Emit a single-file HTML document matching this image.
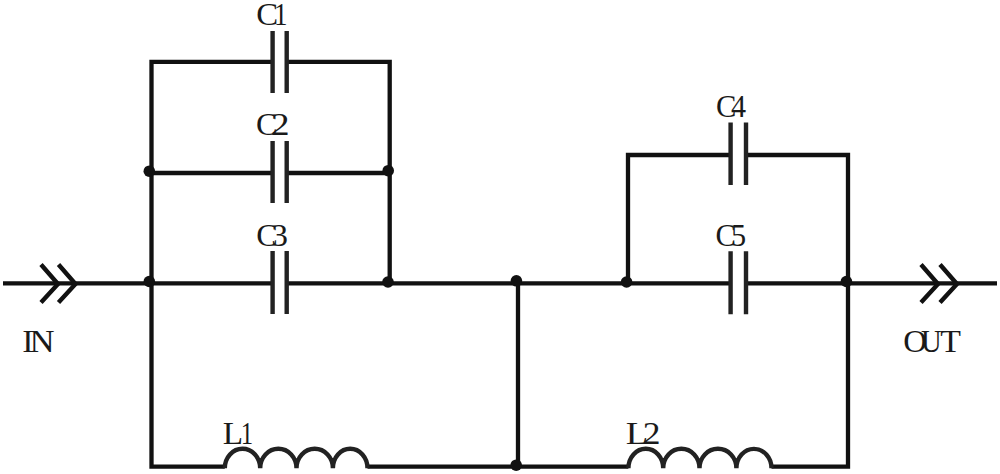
<!DOCTYPE html>
<html><head><meta charset="utf-8">
<style>
html,body{margin:0;padding:0;background:#fff;width:1000px;height:474px;overflow:hidden}
svg{display:block}
text{font-family:"Liberation Serif",serif;fill:#1a1a1a}
</style></head>
<body>
<svg width="1000" height="474" viewBox="0 0 1000 474">
<g stroke="#111" stroke-width="4.3" fill="none" stroke-linecap="butt" stroke-linejoin="miter">
<path d="M3 283.4H272.6M286.7 283.4H730.6M746.0 283.4H997"/>
<path d="M272.6 61.8H151.5V466.6H224.8"/>
<path d="M286.7 61.8H389.7V283.4"/>
<path d="M151.5 173H272.6M286.7 173H389.7"/>
<path d="M730.6 155H628V283.4"/>
<path d="M746.0 155H848V466.6H771.5"/>
<path d="M518 283.4V466.6"/>
<path d="M367.5 466.6H628.4"/>
</g>
<g stroke="#222" stroke-width="4.4" fill="none">
<path d="M272.6 31V93M286.7 31V93"/>
<path d="M272.6 141V203M286.7 141V203"/>
<path d="M272.6 251V314M286.7 251V314"/>
<path d="M730.6 122.6V185M746.0 122.6V185"/>
<path d="M730.6 251.3V314.3M746.0 251.3V314.3"/>
<path d="M224.8 468.3A17.70 19.5 0 0 1 260.2 468.3A18.15 19.5 0 0 1 296.5 468.3A18.20 19.5 0 0 1 332.9 468.3A17.30 19.5 0 0 1 367.5 468.3"/>
<path d="M628.4 468.3A17.40 19.5 0 0 1 663.2 468.3A18.15 19.5 0 0 1 699.5 468.3A18.45 19.5 0 0 1 736.4 468.3A17.55 19.5 0 0 1 771.5 468.3"/>
</g>
<g stroke="#111" stroke-width="4.4" fill="none" stroke-linecap="butt">
<path d="M41 264.5L58 284L41 302.5M58.5 264.5L75.5 284L58.5 302.5"/>
<path d="M921 264.5L938 284L921 302.5M940 264.5L957 284L940 302.5"/>
</g>
<g fill="#111">
<circle cx="149.3" cy="171.2" r="5.8"/>
<circle cx="388.2" cy="170.7" r="5.8"/>
<circle cx="149.3" cy="281.5" r="5.8"/>
<circle cx="388" cy="282" r="5.8"/>
<circle cx="516.4" cy="280.8" r="5.8"/>
<circle cx="626.6" cy="282" r="5.8"/>
<circle cx="846.4" cy="281.5" r="5.8"/>
<circle cx="516.2" cy="465.2" r="5.8"/>
</g>
<g font-size="32.5">
<text transform="translate(256.29,24.8) scale(1.011,1)">C</text>
<text transform="translate(274.08,24.8) scale(0.833,1)">1</text>
<text transform="translate(255.91,134.9) scale(0.995,1)">C</text>
<text transform="translate(270.78,134.9) scale(1.160,1)">2</text>
<text transform="translate(256.31,246.1) scale(0.995,1)">C</text>
<text transform="translate(271.15,246.1) scale(1.030,1)">3</text>
<text transform="translate(715.88,116.5) scale(0.941,1)">C</text>
<text transform="translate(730.94,116.5) scale(0.927,1)">4</text>
<text transform="translate(715.58,246.1) scale(0.941,1)">C</text>
<text transform="translate(731.03,246.1) scale(0.931,1)">5</text>
<text transform="translate(222.78,443.6) scale(1.024,1)">L</text>
<text transform="translate(240.79,443.6) scale(0.763,1)">1</text>
<text transform="translate(625.78,443.6) scale(1.135,1)">L</text>
<text transform="translate(642.77,443.6) scale(1.092,1)">2</text>
<text transform="translate(22.36,351.6) scale(1.035,1)">I</text>
<text transform="translate(29.54,351.6) scale(1.069,1)">N</text>
<text transform="translate(903.29,351.7) scale(1.010,1)">O</text>
<text transform="translate(920.88,351.7) scale(0.882,1)">U</text>
<text transform="translate(940.37,351.7) scale(1.043,1)">T</text>
</g>
</svg>
</body></html>
